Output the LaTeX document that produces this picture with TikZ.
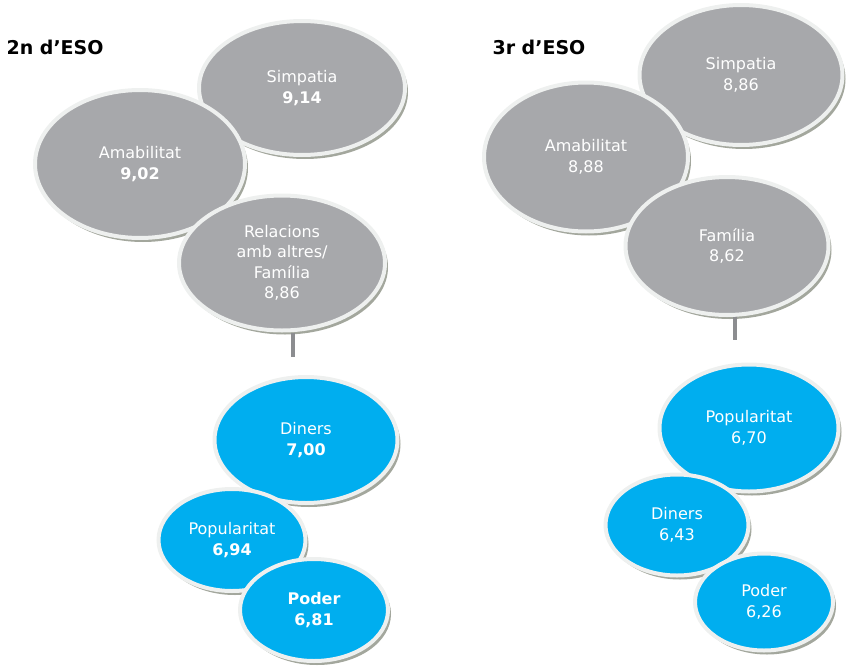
\documentclass[tikz,border=0pt]{standalone}
\usepackage{fontspec}
\setmainfont{DejaVu Sans}
\usetikzlibrary{shapes.geometric,shadows}
\definecolor{bubblegrey}{HTML}{A7A8AB}
\definecolor{bubbleblue}{HTML}{00AEEF}
\definecolor{bubbleedge}{HTML}{EEF0EF}
\definecolor{shadowgrey}{HTML}{A3A79D}
\definecolor{stemgrey}{HTML}{8C8D90}
\tikzset{
  bubble/.style={ellipse, draw=bubbleedge, line width=4pt, inner sep=0pt,
    text=white, align=center, font=\fontsize{16}{20.5}\selectfont,
    drop shadow={shadow xshift=3pt, shadow yshift=-4pt, fill=shadowgrey, opacity=1}},
  greybubble/.style={bubble, fill=bubblegrey},
  bluebubble/.style={bubble, fill=bubbleblue},
  stem/.style={draw=stemgrey, line width=4pt},
  heading/.style={font=\bfseries\fontsize{19}{22}\selectfont, anchor=west}
}
\begin{document}
\begin{tikzpicture}[x=1pt, y=-1pt]
\useasboundingbox (0,0) rectangle (847,667);
\node[heading] (titleL) at (3,47) {2n d’ESO};
\node[heading] (titleR) at (489,47) {3r d’ESO};
% 2n d'ESO
\node[greybubble, minimum width=206pt, minimum height=134pt] (simpL) at (302,88) {Simpatia\\ \textbf{9,14}};
\node[greybubble, minimum width=210pt, minimum height=148pt] (amabL) at (140,164) {Amabilitat\\ \textbf{9,02}};
\node[greybubble, minimum width=206pt, minimum height=135pt] (relL) at (282,263) {Relacions\\ amb altres/\\ Família\\ 8,86};
\coordinate (stemL) at (293,357);
\draw[stem] (relL.south -| stemL) -- (stemL);
\node[bluebubble, minimum width=183pt, minimum height=126pt] (dinL) at (306,440) {Diners\\ \textbf{7,00}};
\node[bluebubble, minimum width=147pt, minimum height=102pt] (popL) at (232,540) {Popularitat\\ \textbf{6,94}};
\node[bluebubble, minimum width=148pt, minimum height=102pt] (podL) at (314,610) {\textbf{Poder}\\ \textbf{6,81}};
% 3r d'ESO
\node[greybubble, minimum width=203pt, minimum height=140pt] (simpR) at (741,75) {Simpatia\\ 8,86};
\node[greybubble, minimum width=204pt, minimum height=149pt] (amabR) at (586,157) {Amabilitat\\ 8,88};
\node[greybubble, minimum width=203pt, minimum height=138pt] (famR) at (727,246) {Família\\ 8,62};
\coordinate (stemR) at (735,340);
\draw[stem] (famR.south -| stemR) -- (stemR);
\node[bluebubble, minimum width=179pt, minimum height=127pt] (popR) at (749,428) {Popularitat\\ 6,70};
\node[bluebubble, minimum width=143pt, minimum height=101pt] (dinR) at (677,525) {Diners\\ 6,43};
\node[bluebubble, minimum width=138pt, minimum height=97pt] (podR) at (764,602) {Poder\\ 6,26};
\end{tikzpicture}
\end{document}
